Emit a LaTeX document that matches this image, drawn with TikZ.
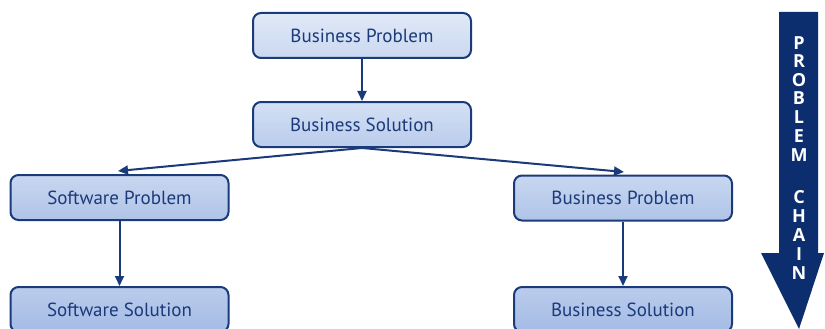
\documentclass[tikz,border=0pt]{standalone}
\usepackage{fontspec}
\setmainfont{PT Sans}
\newfontfamily\chainfont{Open Sans}
\usetikzlibrary{arrows.meta}

\definecolor{navy}{HTML}{1B3A7A}
\definecolor{chainblue}{HTML}{0C2E6E}
\definecolor{boxtopA}{HTML}{E0E9F7}
\definecolor{boxbotA}{HTML}{CAD8F0}
\definecolor{boxtopB}{HTML}{D4E0F4}
\definecolor{boxbotB}{HTML}{BACCEC}
\definecolor{boxtopC}{HTML}{C8D7F0}
\definecolor{boxbotC}{HTML}{B0C4E8}
\definecolor{boxtopD}{HTML}{BACCEC}
\definecolor{boxbotD}{HTML}{A4BBE5}

\tikzset{
  stepbox/.style={
    draw=navy,
    line width=2pt,
    rounded corners=8pt,
    minimum width=218pt,
    minimum height=45pt,
    text=navy,
    font=\fontsize{19}{22}\selectfont
  },
  flow/.style={
    draw=navy,
    line width=2pt,
    -{Triangle[length=10pt,width=9pt]}
  }
}

\begin{document}
\begin{tikzpicture}[x=1pt,y=-1pt]
        \useasboundingbox (0,0) rectangle (825,329);

        % Top row
        \node[stepbox, top color=boxtopA, bottom color=boxbotA] (bizprob) at (362,35.5) {Business Problem};
        \node[stepbox, top color=boxtopB, bottom color=boxbotB] (bizsol) at (362,124.5) {Business Solution};

        % Left branch
        \node[stepbox, top color=boxtopC, bottom color=boxbotC] (swprob) at (119.5,197.5) {Software Problem};
        \node[stepbox, top color=boxtopD, bottom color=boxbotD] (swsol) at (119.5,309.5) {Software Solution};

        % Right branch
        \node[stepbox, top color=boxtopC, bottom color=boxbotC] (bizprob2) at (623,198) {Business Problem};
        \node[stepbox, top color=boxtopD, bottom color=boxbotD] (bizsol2) at (623,309.5) {Business Solution};

        % Arrow ends above the branches
        \coordinate (swin) at (118,171);
        \coordinate (bizin) at (624,172);

        % Connectors
        \draw[flow] (bizprob) -- (bizsol);
        \draw[flow] (bizsol.south) -- (swin);
        \draw[flow] (bizsol.south) -- (bizin);
        \draw[flow] (swprob) -- (swsol);
        \draw[flow] (bizprob2) -- (bizsol2);

        % Problem chain arrow
        \fill[chainblue]
          (779,12) -- (818,12) -- (818,253) -- (824,253)
          -- (799,329) -- (761,253) -- (779,253) -- cycle;
        \foreach \ch/\y in {P/42.7, R/61.5, O/80, B/98.5, L/117, E/136, M/155,
                            C/196.7, H/216, A/235, I/254, N/273}
          \node[text=white, font=\chainfont\bfseries\fontsize{18}{18}\selectfont] at (799,\y) {\ch};
    \end{tikzpicture}
\end{document}
